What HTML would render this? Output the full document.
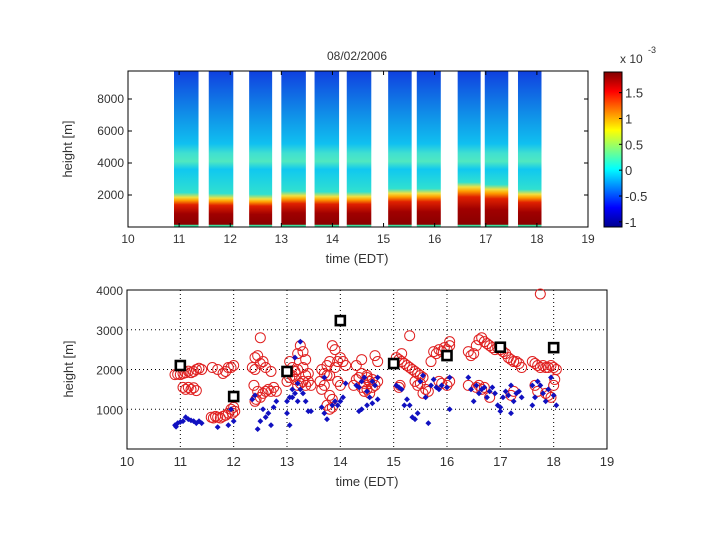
<!DOCTYPE html>
<html><head><meta charset="utf-8"><style>
body{margin:0;background:#fff}
svg{display:block;font-family:"Liberation Sans",sans-serif}
</style></head><body>
<svg id="fig" width="720" height="540" viewBox="0 0 720 540" xmlns="http://www.w3.org/2000/svg">
<rect width="720" height="540" fill="#fff"/>
<defs>
<linearGradient id="cbar" x1="0" y1="1" x2="0" y2="0">
<stop offset="0" stop-color="#00008f"/><stop offset="0.125" stop-color="#0000ff"/><stop offset="0.375" stop-color="#00ffff"/><stop offset="0.625" stop-color="#ffff00"/><stop offset="0.875" stop-color="#ff0000"/><stop offset="1" stop-color="#800000"/>
</linearGradient>
</defs>
<g id="topPanel"></g>
<g id="botPanel"></g>
</svg>
<script>
// top panel data
const stripStart=[10.9,11.58,12.37,13.0,13.65,14.28,15.09,15.65,16.45,16.98,17.63];
const stripEnd=[11.38,12.06,12.82,13.48,14.13,14.76,15.55,16.12,16.9,17.44,18.09];
const blHeight=[1850,1800,1750,1950,1900,1900,2100,2100,2500,2350,2050];
const topXTicks=[10,11,12,13,14,15,16,17,18,19];
const topYTicks=[2000,4000,6000,8000];
const cbTicks=[-1,-0.5,0,0.5,1,1.5];
const cbLabels=["-1","-0.5","0","0.5","1","1.5"];
// bottom panel data
const redH=[10.9,10.95,11.0,11.05,11.1,11.15,11.2,11.25,11.3,11.35,11.4,11.05,11.1,11.15,11.2,11.3,11.25,
11.6,11.7,11.8,11.85,11.9,11.95,12.0,11.58,11.62,11.66,11.7,11.75,11.8,11.85,11.9,11.95,12.0,12.02,11.98,
12.35,12.4,12.45,12.5,12.55,12.6,12.4,12.5,12.7,12.38,12.45,12.5,12.55,12.6,12.65,12.7,12.75,12.8,12.42,12.4,
13.0,13.05,13.1,13.15,13.2,13.25,13.3,13.35,13.4,13.45,13.2,13.25,13.3,13.35,13.05,13.1,13.3,13.4,13.2,13.15,13.35,
13.62,13.65,13.7,13.75,13.8,13.85,13.9,13.95,14.0,14.05,14.1,13.65,13.7,13.8,13.85,13.95,14.0,13.75,13.9,13.8,13.75,13.8,13.85,
14.3,14.4,14.5,14.55,14.6,14.45,14.35,14.65,14.7,14.5,14.55,14.6,14.65,14.7,14.4,14.3,14.25,14.4,14.45,14.5,
15.05,15.1,15.15,15.2,15.25,15.3,15.35,15.4,15.45,15.5,15.55,15.15,15.3,15.1,15.12,15.4,15.45,15.5,15.55,
15.6,15.65,15.7,15.75,15.8,15.85,15.9,15.95,16.0,16.05,16.05,15.85,15.9,16.0,16.05,
16.4,16.45,16.5,16.55,16.6,16.65,16.7,16.75,16.8,16.85,16.9,16.4,16.6,16.65,16.55,16.8,16.7,
16.95,17.0,17.05,17.1,17.15,17.2,17.25,17.3,17.35,17.4,17.25,17.2,
17.6,17.65,17.7,17.75,17.8,17.85,17.9,17.95,18.0,18.05,17.75,17.65,17.7,17.9,17.95,18.0,18.02,17.85];
const redV=[1870,1880,1870,1900,1920,1960,1920,1950,2000,2030,2000,1550,1500,1550,1500,1470,1540,
2050,2000,1900,1950,2050,2050,2100,800,780,820,800,780,820,850,900,1000,1050,950,900,
2050,2300,2350,2800,2200,2050,2000,2150,1950,1600,1450,1300,1400,1450,1500,1450,1550,1450,1250,1200,
1700,1800,1850,1750,1600,1650,1700,1600,1700,1600,2400,2600,2450,2250,2200,2050,2050,1900,2000,1950,1850,
1700,2000,1900,2100,2200,2600,2500,2200,2300,2200,2100,1500,1600,1350,1250,1700,1600,1850,2050,1850,1100,1000,1050,
2100,2250,1800,1700,1750,1650,1800,2350,2200,1500,1400,1550,1600,1700,1900,1750,1600,1550,1450,1850,
2300,2250,2200,2150,2100,2050,2000,1950,1900,1850,1800,2400,2850,1550,1600,1700,1600,1650,1400,
1500,1450,2200,2450,2400,2500,2450,2550,2500,2700,2600,1700,1650,1600,1700,
2450,2350,2400,2600,2750,2800,2700,2650,2600,2550,2500,1600,1600,1500,1550,1300,1550,
2550,2500,2450,2400,2300,2250,2200,2200,2150,2050,1450,1350,
2200,2150,2100,2050,2100,2050,2050,2100,2050,2000,3900,1600,1450,1350,1300,1600,1750,1400];
const blueH=[10.9,10.95,11.0,11.05,11.1,11.15,11.2,11.25,11.3,11.35,10.92,11.4,
11.7,11.9,12.0,11.95,
12.35,12.45,12.5,12.55,12.6,12.65,12.7,12.75,12.8,12.4,
13.0,13.05,13.1,13.15,13.2,13.25,13.3,13.35,13.4,13.45,13.25,13.15,13.05,13.0,13.1,13.2,
13.65,13.7,13.75,13.85,13.9,14.0,14.05,14.1,13.7,13.95,
14.3,14.35,14.4,14.45,14.5,14.55,14.6,14.65,14.7,14.4,14.5,14.6,14.7,14.35,
15.05,15.1,15.15,15.2,15.25,15.3,15.35,15.4,15.45,15.5,15.55,15.6,15.65,
15.7,15.8,15.85,15.9,16.0,16.05,16.05,15.75,
16.4,16.45,16.5,16.55,16.6,16.65,16.7,16.75,16.8,16.85,16.9,
16.95,17.0,17.05,17.1,17.15,17.2,17.25,17.3,17.35,17.4,17.0,17.2,
17.6,17.65,17.7,17.75,17.8,17.85,17.9,17.95,18.0,18.05,17.6];
const blueV=[600,650,680,700,800,750,720,700,650,700,560,650,
550,600,700,1000,
1250,500,700,1000,800,900,600,1050,1200,1350,
1200,1300,1300,1400,1200,1500,1400,1200,950,950,2700,2300,600,900,1500,1650,
1050,1800,750,1100,1200,1200,1300,1650,900,1100,
1600,1550,1700,1800,1450,1300,1700,1600,1800,1000,1100,1150,1250,950,
1600,1550,1500,1100,1250,1100,800,750,900,1700,1850,1300,650,
1600,1550,1500,1600,1550,1800,1000,1750,
1800,1500,1200,1600,1400,1500,1550,1300,1450,1550,1400,
1100,1050,1300,1450,1350,1600,1200,1400,1450,1300,950,900,
1600,1300,1700,1600,1400,1200,1500,1800,1350,1100,1100];
const sqH=[11,12,13,14,15,16,17,18];
const sqV=[2100,1320,1950,3230,2150,2350,2560,2550];
const botXTicks=[10,11,12,13,14,15,16,17,18,19];
const botYTicks=[1000,2000,3000,4000];

const NS="http://www.w3.org/2000/svg";
function mk(tag,attrs,parent,txt){const e=document.createElementNS(NS,tag);for(const k in attrs)e.setAttribute(k,attrs[k]);if(txt!==undefined)e.textContent=txt;parent.appendChild(e);return e;}
const topG=document.getElementById('topPanel'), botG=document.getElementById('botPanel');
const svgEl=document.getElementById('fig');
const defsEl=svgEl.querySelector('defs');

// top axes
const TL=128,TR=588,TT=71,TB=227,TYMAX=9750;
const tx=h=>TL+(h-10)/9*(TR-TL);
const ty=v=>TB-v/TYMAX*(TB-TT);
stripStart.forEach((s,i)=>{
  const bl=blHeight[i];
  const g=mk('linearGradient',{id:'sg'+i,gradientUnits:'userSpaceOnUse',x1:0,y1:ty(0),x2:0,y2:ty(TYMAX)},defsEl);
  const stops=[[0,'#40e0a0'],[120,'#40e0a0'],[160,'#8a0000'],[bl*0.45,'#a00000'],[bl*0.75,'#e02000'],[bl*0.9,'#ffa000'],[bl,'#f0e040'],[bl+300,'#30e0d0'],[3600,'#10c8f0'],[4100,'#50e8c0'],[4600,'#40e0d0'],[5200,'#10c0f0'],[7000,'#1090e8'],[TYMAX,'#1040e0']];
  stops.forEach(st=>mk('stop',{offset:Math.min(1,st[0]/TYMAX),'stop-color':st[1]},g));
  const r=mk('rect',{x:tx(s),y:TT,width:tx(stripEnd[i])-tx(s),height:TB-TT,fill:'url(#sg'+i+')'},topG);
  
  
});
mk('rect',{x:TL,y:TT,width:TR-TL,height:TB-TT,fill:'none',stroke:'#000','stroke-width':1},topG);
topXTicks.forEach(h=>{const x=tx(h);
  mk('line',{x1:x,y1:TB,x2:x,y2:TB-4,stroke:'#000'},topG);mk('line',{x1:x,y1:TT,x2:x,y2:TT+4,stroke:'#000'},topG);
  const l=mk('text',{x:x,y:TB+16,'font-size':12,'text-anchor':'middle',fill:'#333'},topG,String(h));
  });
topYTicks.forEach(v=>{const y=ty(v);
  mk('line',{x1:TL,y1:y,x2:TL+4,y2:y,stroke:'#000'},topG);mk('line',{x1:TR,y1:y,x2:TR-4,y2:y,stroke:'#000'},topG);
  const l=mk('text',{x:TL-4,y:y+4,'font-size':12,'text-anchor':'end',fill:'#333'},topG,String(v));
  });
let lbl=mk('text',{x:357,y:60,'font-size':12,'text-anchor':'middle',fill:'#333'},topG,'08/02/2006');

lbl=mk('text',{x:357,y:263,'font-size':13,'text-anchor':'middle',fill:'#333'},topG,'time (EDT)');

lbl=mk('text',{x:0,y:0,'font-size':13,'text-anchor':'middle',fill:'#333',transform:'translate(72,149) rotate(-90)'},topG,'height [m]');

// colorbar
const CL=604,CR=622,CT=72,CB=227,CMIN=-1.1,CMAX=1.9;
const cy=v=>CB-(v-CMIN)/(CMAX-CMIN)*(CB-CT);
const cb=mk('rect',{x:CL,y:CT,width:CR-CL,height:CB-CT,fill:'url(#cbar)',stroke:'#000'},topG);

cbTicks.forEach((v,i)=>{const y=cy(v);
  mk('line',{x1:CR,y1:y,x2:CR-3,y2:y,stroke:'#000'},topG);
  const l=mk('text',{x:CR+3,y:y+5,'font-size':13,fill:'#333'},topG,cbLabels[i]);
  });
lbl=mk('text',{x:620,y:63,'font-size':12,fill:'#333'},topG,'x 10');

mk('text',{x:648,y:53,'font-size':9,fill:'#333'},topG,'-3');

// bottom axes
const BL=127,BR=607,BT=290,BB=449,BYMAX=4000;
const bx=h=>BL+(h-10)/9*(BR-BL);
const by=v=>BB-v/BYMAX*(BB-BT);
mk('rect',{x:BL,y:BT,width:BR-BL,height:BB-BT,fill:'#fff',stroke:'#000'},botG);
botXTicks.forEach(h=>{const x=bx(h);
  if(h>10&&h<19)mk('line',{x1:x,y1:BT,x2:x,y2:BB,stroke:'#000','stroke-dasharray':'1,3'},botG);
  const l=mk('text',{x:x,y:BB+17,'font-size':13,'text-anchor':'middle',fill:'#333'},botG,String(h));
  });
botYTicks.forEach(v=>{const y=by(v);
  if(v<4000)mk('line',{x1:BL,y1:y,x2:BR,y2:y,stroke:'#000','stroke-dasharray':'1,3'},botG);
  const l=mk('text',{x:BL-4,y:y+5,'font-size':12,'text-anchor':'end',fill:'#333'},botG,String(v));
  });
redH.forEach((h,i)=>{const c=mk('circle',{cx:bx(h),cy:by(redV[i]),r:5,fill:'none',stroke:'#e02020','stroke-width':1},botG);
  });
blueH.forEach((h,i)=>{const x=bx(h),y=by(blueV[i]);
  const p=mk('path',{d:`M${x-2.5},${y}L${x},${y-2.5}L${x+2.5},${y}L${x},${y+2.5}Z`,fill:'#1010c0',stroke:'#1010c0','stroke-width':0.6},botG);
  });
sqH.forEach((h,i)=>{const r=mk('rect',{x:bx(h)-4.5,y:by(sqV[i])-4.5,width:9,height:9,fill:'#fff',stroke:'#000','stroke-width':2.6},botG);
  });
lbl=mk('text',{x:367,y:486,'font-size':13,'text-anchor':'middle',fill:'#333'},botG,'time (EDT)');

lbl=mk('text',{x:0,y:0,'font-size':13,'text-anchor':'middle',fill:'#333',transform:'translate(73,369) rotate(-90)'},botG,'height [m]');

</script>
</body></html>
